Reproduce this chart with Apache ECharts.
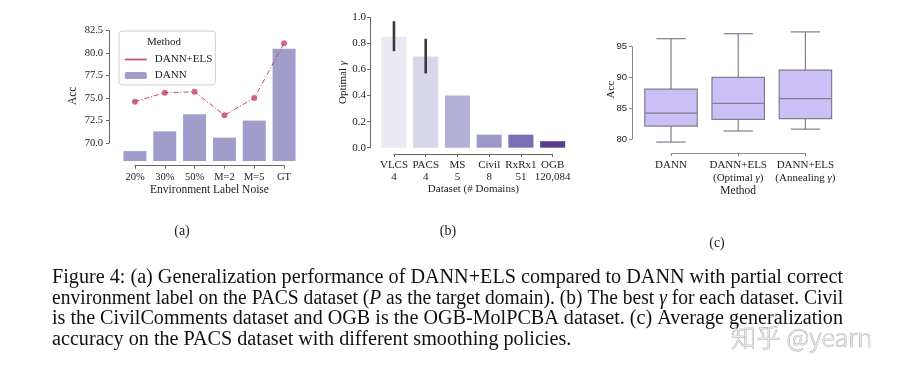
<!DOCTYPE html>
<html>
<head>
<meta charset="utf-8">
<script src="https://cdn.jsdelivr.net/npm/echarts@6/dist/echarts.min.js"></script>
<style>
  html, body { margin: 0; padding: 0; background: #fff; }
  #fig { width: 910px; height: 376px; }
</style>
</head>
<body>
<div id="fig"></div>
<script>
// ---- (a) 环境标签噪声 ----
const noiseLevels = ['20%', '30%', '50%', 'M=2', 'M=5', 'GT'];
const dannAcc = [69.1, 71.3, 73.2, 70.6, 72.5, 80.5];
const dannElsAcc = [74.6, 75.6, 75.7, 73.1, 75.0, 81.1];

// ---- (b) 最优 gamma ----
const datasetNames = ['VLCS', 'PACS', 'MS', 'Civil', 'RxRx1', 'OGB'];
const domainCounts = ['4', '4', '5', '8', '51', '120,084'];
const optimalGamma = [0.85, 0.70, 0.40, 0.10, 0.10, 0.05];
const gammaLow = [0.74, 0.57, null, null, null, null];
const gammaHigh = [0.97, 0.835, null, null, null, null];

// ---- (c) 平滑策略 ----
const methodNames = ['DANN', 'DANN+ELS\n(Optimal γ)', 'DANN+ELS\n(Annealing γ)'];
const accMin = [79.5, 81.3, 81.6];
const accQ1 = [82.1, 83.2, 83.3];
const accMedian = [84.2, 85.8, 86.55];
const accQ3 = [88.1, 90.0, 91.2];
const accMax = [96.3, 97.1, 97.4];

const captionLines = [
    'Figure 4: (a) Generalization performance of DANN+ELS compared to DANN with partial correct',
    'environment label on the PACS dataset ({i|P} as the target domain). (b) The best {i|γ} for each dataset. Civil',
    'is the CivilComments dataset and OGB is the OGB-MolPCBA dataset. (c) Average generalization',
    'accuracy on the PACS dataset with different smoothing policies.'
];

// 颜色
const gammaColors = ['#ebeaf3', '#d8d6e9', '#b2b0d4', '#9d99c8', '#7c6eb3', '#5b3d90'];
const SERIF = '"Liberation Serif", "Times New Roman", serif';
const SANS = '"Liberation Sans", Arial, sans-serif';
const INK = '#222';
const LINE_RED = '#c4466c';

let chart = echarts.init(document.getElementById('fig'));

function shownAxisLine(color) {
    return {show: true, lineStyle: {color: color, width: 1}};
}
function shownTick(color) {
    return {show: true, length: 3, lineStyle: {color: color, width: 1}};
}
function hiddenParts() {
    return {
        axisLine: {show: false}, axisTick: {show: false},
        axisLabel: {show: false}, splitLine: {show: false}
    };
}

// 画误差线
function renderErr(params, api) {
    let lo = api.value(1);
    let hi = api.value(2);
    if (lo == null || isNaN(lo)) return;
    let p0 = api.coord([api.value(0), lo]);
    let p1 = api.coord([api.value(0), hi]);
    return {
        type: 'line',
        shape: {x1: p0[0], y1: p0[1], x2: p1[0], y2: p1[1]},
        style: {stroke: '#3a3a3a', lineWidth: 2.6}
    };
}

// 画箱线图（须线端点宽度为箱宽一半）
function renderBox(params, api) {
    let idx = api.value(0);
    let pMin = api.coord([idx, api.value(1)]);
    let pQ1 = api.coord([idx, api.value(2)]);
    let pMed = api.coord([idx, api.value(3)]);
    let pQ3 = api.coord([idx, api.value(4)]);
    let pMax = api.coord([idx, api.value(5)]);
    let bw = api.size([1, 0])[0] * 0.78;
    let cw = bw * 0.56;
    let cx = pMed[0];
    let st = {stroke: '#7e7e8e', lineWidth: 1.2, fill: null};
    return {
        type: 'group',
        children: [
            {type: 'line', shape: {x1: cx, y1: pQ3[1], x2: cx, y2: pMax[1]}, style: st},
            {type: 'line', shape: {x1: cx, y1: pQ1[1], x2: cx, y2: pMin[1]}, style: st},
            {type: 'line', shape: {x1: cx - cw / 2, y1: pMax[1], x2: cx + cw / 2, y2: pMax[1]}, style: st},
            {type: 'line', shape: {x1: cx - cw / 2, y1: pMin[1], x2: cx + cw / 2, y2: pMin[1]}, style: st},
            {type: 'rect', shape: {x: cx - bw / 2, y: pQ3[1], width: bw, height: pQ1[1] - pQ3[1]},
                style: {fill: '#cbbff6', stroke: '#7e7e8e', lineWidth: 1.2}},
            {type: 'line', shape: {x1: cx - bw / 2, y1: pMed[1], x2: cx + bw / 2, y2: pMed[1]}, style: st}
        ]
    };
}

// 说明文字：按宽度拉伸，两端对齐
let measureCtx = document.createElement('canvas').getContext('2d');
const CAP_SIZE = 20;
measureCtx.font = CAP_SIZE + 'px ' + SERIF;
const capLeft = 52, capRight = 843;
let captionScale = [];
for (let i = 0; i < captionLines.length; i++) {
    let plain = captionLines[i].replace(/\{i\|([^}]*)\}/g, '$1');
    captionScale.push((capRight - capLeft) / measureCtx.measureText(plain).width);
}
captionScale[3] = captionScale[0];
const captionY = [278, 298.5, 319, 339.5];

let graphics = [];
for (let i = 0; i < captionLines.length; i++) {
    graphics.push({
        type: 'text', x: capLeft, y: captionY[i], scaleX: captionScale[i],
        style: {
            text: captionLines[i], x: 0, y: 0,
            font: CAP_SIZE + 'px ' + SERIF, fill: '#111',
            textAlign: 'left', textVerticalAlign: 'middle',
            rich: {i: {fontStyle: 'italic', fontSize: CAP_SIZE, fontFamily: SERIF, fill: '#111'}}
        }
    });
}
// 子图标号
[['(a)', 182, 231], ['(b)', 448, 231], ['(c)', 717, 243]].forEach(function (t) {
    graphics.push({
        type: 'text', x: t[1], y: t[2],
        style: {text: t[0], font: '14px ' + SERIF, fill: INK, textAlign: 'center', textVerticalAlign: 'middle'}
    });
});
// 图例标题
graphics.push({
    type: 'text', x: 164, y: 42, z: 100,
    style: {text: 'Method', font: '11px ' + SERIF, fill: INK, textAlign: 'center', textVerticalAlign: 'middle'}
});
// 水印
graphics.push({
    type: 'text', x: 731, y: 337, z: 200,
    style: {
        text: '知乎 @yearn', font: '300 25px "Noto Sans CJK SC"', fill: '#e6e6e6',
        stroke: '#9c9c9c', lineWidth: 0.7, textAlign: 'left', textVerticalAlign: 'middle'
    }
});

let datasetLabels = datasetNames.map(function (n, i) { return n + '\n' + domainCounts[i]; });
let errData = datasetNames.map(function (n, i) { return [i, gammaLow[i], gammaHigh[i]]; })
    .filter(function (d) { return d[1] != null; });
let boxData = methodNames.map(function (n, i) {
    return [i, accMin[i], accQ1[i], accMedian[i], accQ3[i], accMax[i]];
});

let option = {
    backgroundColor: '#fff',
    animation: false,
    textStyle: {fontFamily: SERIF, color: INK},
    grid: [
        {left: 120, top: 30.7, width: 179, height: 130.3},     // a 数据
        {left: 109, top: 30.7, width: 10, height: 112.3},      // a y轴
        {left: 135, top: 160, width: 149, height: 5.7},        // a x轴
        {left: 378.1, top: 17.3, width: 190.4, height: 130.4}, // b 数据
        {left: 394, top: 150, width: 158.7, height: 4},        // b x轴
        {left: 637.4, top: 28.2, width: 201.6, height: 123.1}, // c 数据
        {left: 632, top: 46.7, width: 10, height: 92.3},       // c y轴
        {left: 671, top: 150, width: 134.4, height: 3.3}       // c x轴
    ],
    xAxis: [
        {gridIndex: 0, type: 'category', data: noiseLevels, show: false},
        {gridIndex: 1, type: 'value', show: false},
        {
            gridIndex: 2, type: 'category', data: noiseLevels, boundaryGap: false,
            axisLine: shownAxisLine('#666'), axisTick: shownTick('#666'),
            axisLabel: {margin: 6, fontSize: 10.5, fontFamily: SERIF, color: INK},
            name: 'Environment Label Noise', nameLocation: 'middle', nameGap: 17,
            nameTextStyle: {fontSize: 11.5, fontFamily: SERIF, color: INK}
        },
        {gridIndex: 3, type: 'category', data: datasetNames, show: false},
        {
            gridIndex: 4, type: 'category', data: datasetLabels, boundaryGap: false,
            axisLine: shownAxisLine('#666'), axisTick: shownTick('#666'),
            axisLabel: {margin: 5, fontSize: 11, lineHeight: 12, fontFamily: SERIF, color: INK, interval: 0},
            name: 'Dataset (# Domains)', nameLocation: 'middle', nameGap: 30,
            nameTextStyle: {fontSize: 11, fontFamily: SERIF, color: INK}
        },
        {gridIndex: 5, type: 'category', data: methodNames, show: false},
        {gridIndex: 6, type: 'value', show: false},
        {
            gridIndex: 7, type: 'category', data: methodNames, boundaryGap: false,
            axisLine: shownAxisLine('#8a8a8a'), axisTick: shownTick('#8a8a8a'),
            axisLabel: {
                margin: 5, fontSize: 11, lineHeight: 13, fontFamily: SERIF, color: INK, interval: 0,
                formatter: function (v) { return v.replace('γ', '{i|γ}'); },
                rich: {i: {fontStyle: 'italic', fontSize: 11, fontFamily: SERIF, color: INK}}
            },
            name: 'Method', nameLocation: 'middle', nameGap: 29,
            nameTextStyle: {fontSize: 11.5, fontFamily: SERIF, color: INK}
        }
    ],
    yAxis: [
        Object.assign({
            gridIndex: 0, type: 'value', min: 68, max: 82.5,
            name: 'Acc', nameLocation: 'middle', nameGap: 41,
            nameTextStyle: {fontSize: 11.5, fontFamily: SERIF, color: INK}
        }, hiddenParts()),
        {
            gridIndex: 1, type: 'value', min: 70, max: 82.5, interval: 2.5,
            axisLine: shownAxisLine('#666'), axisTick: shownTick('#666'), splitLine: {show: false},
            axisLabel: {margin: 6, fontSize: 10.5, fontFamily: SERIF, color: INK,
                formatter: function (v) { return v.toFixed(1); }}
        },
        {gridIndex: 2, type: 'value', show: false},
        {
            gridIndex: 3, type: 'value', min: 0, max: 1, interval: 0.2, offset: 8,
            axisLine: shownAxisLine('#666'), axisTick: shownTick('#666'), splitLine: {show: false},
            axisLabel: {margin: 4, fontSize: 11, fontFamily: SERIF, color: INK,
                formatter: function (v) { return v.toFixed(1); }},
            name: 'Optimal {i|γ}', nameLocation: 'middle', nameGap: 19,
            nameTextStyle: {fontSize: 11, fontFamily: SERIF, color: INK,
                rich: {i: {fontStyle: 'italic', fontSize: 11, fontFamily: SERIF, color: INK}}}
        },
        {gridIndex: 4, type: 'value', show: false},
        Object.assign({
            gridIndex: 5, type: 'value', min: 78, max: 98,
            name: 'Acc', nameLocation: 'middle', nameGap: 21,
            nameTextStyle: {fontSize: 11, fontFamily: SERIF, color: INK}
        }, hiddenParts()),
        {
            gridIndex: 6, type: 'value', min: 80, max: 95, interval: 5,
            axisLine: shownAxisLine('#8a8a8a'), axisTick: shownTick('#8a8a8a'), splitLine: {show: false},
            axisLabel: {margin: 5, fontSize: 9.5, fontFamily: SANS, color: INK}
        },
        {gridIndex: 7, type: 'value', show: false}
    ],
    legend: {
        left: 119, top: 31, orient: 'vertical',
        padding: [23, 3, 4, 5], itemGap: 5, itemWidth: 22, itemHeight: 7,
        backgroundColor: '#fff', borderColor: '#cfcfcf', borderWidth: 1, borderRadius: 3,
        textStyle: {fontSize: 11, fontFamily: SERIF, color: INK, padding: [0, 0, 0, 3]},
        data: [
            // 图例只画线，不画圆点
            {name: 'DANN+ELS', itemStyle: {opacity: 0},
                lineStyle: {color: LINE_RED, type: 'solid', width: 1.6, opacity: 1}},
            {name: 'DANN'}
        ]
    },
    series: [
        {
            name: 'DANN', type: 'bar', xAxisIndex: 0, yAxisIndex: 0,
            data: dannAcc, barWidth: '77%', itemStyle: {color: '#a09dca'}
        },
        {
            name: 'DANN+ELS', type: 'line', xAxisIndex: 0, yAxisIndex: 0,
            data: dannElsAcc, symbol: 'none', color: LINE_RED,
            lineStyle: {color: LINE_RED, width: 1, type: [5, 2, 1, 2]},
            itemStyle: {color: LINE_RED}
        },
        {
            name: 'DANN+ELS points', type: 'scatter', xAxisIndex: 0, yAxisIndex: 0,
            data: dannElsAcc, symbolSize: 6, itemStyle: {color: '#c8446c'}
        },
        {
            name: 'gamma', type: 'bar', xAxisIndex: 3, yAxisIndex: 3, barWidth: '79%',
            data: optimalGamma.map(function (v, i) {
                return {value: v, itemStyle: {color: gammaColors[i]}};
            })
        },
        {
            name: 'gamma err', type: 'custom', xAxisIndex: 3, yAxisIndex: 3,
            renderItem: renderErr, data: errData, encode: {x: 0, y: [1, 2]}, z: 5
        },
        {
            name: 'acc box', type: 'custom', xAxisIndex: 5, yAxisIndex: 5,
            renderItem: renderBox, data: boxData, encode: {x: 0, y: [1, 2, 3, 4, 5]}
        }
    ],
    graphic: graphics
};

chart.setOption(option);
</script>
</body>
</html>
